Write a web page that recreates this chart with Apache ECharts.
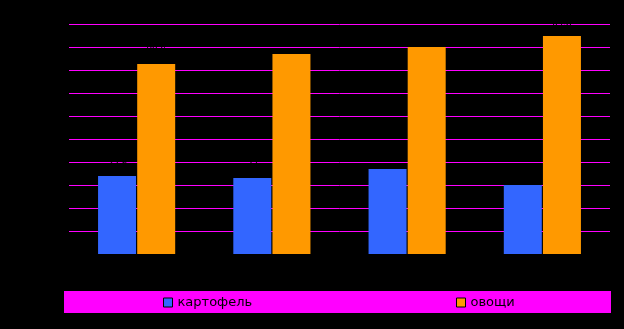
<!DOCTYPE html>
<html>
<head>
<meta charset="utf-8">
<script src="https://cdn.jsdelivr.net/npm/echarts@6/dist/echarts.min.js"></script>
<style>
html,body{margin:0;padding:0;background:#000;}
#c{width:624px;height:329px;}
</style>
</head>
<body>
<div id="c"></div>
<script>
var categories = ['1', '2', '3', '4'];
var seriesNames = ['картофель', 'овощи'];
var potatoValues = [33.9, 33.0, 37.0, 30.0];
var vegetableValues = [82.6, 87.0, 90.0, 94.8];
var yTicks = { min: 0, max: 100, interval: 10 };

var chart = echarts.init(document.getElementById('c'));
var lineColors = ['rgba(0,0,0,0)'];
for (var i = 0; i < 10; i++) lineColors.push('#FF00FF');

var labelCfg = {
  show: true,
  position: 'top',
  distance: 8,
  color: '#000',
  fontFamily: 'Liberation Sans',
  fontSize: 10
};

chart.setOption({
  backgroundColor: '#000',
  animation: false,
  graphic: [{
    type: 'rect',
    shape: { x: 64, y: 291, width: 547, height: 22 },
    style: { fill: '#FF00FF' },
    z: 0
  }],
  legend: [{
    data: [seriesNames[0]],
    left: 163, top: 296, padding: 0,
    itemWidth: 9, itemHeight: 9, itemGap: 5,
    icon: 'rect',
    itemStyle: { borderColor: '#000', borderWidth: 1 },
    textStyle: { color: '#000', fontFamily: 'DejaVu Sans', fontSize: 13 }
  }, {
    data: [seriesNames[1]],
    left: 456, top: 296, padding: 0,
    itemWidth: 9, itemHeight: 9, itemGap: 5,
    icon: 'rect',
    itemStyle: { borderColor: '#000', borderWidth: 1 },
    textStyle: { color: '#000', fontFamily: 'DejaVu Sans', fontSize: 13 }
  }],
  grid: { left: 69, right: 14, top: 24, bottom: 75 },
  xAxis: {
    type: 'category',
    data: categories,
    axisLine: { show: false },
    axisTick: { show: false },
    axisLabel: { show: false }
  },
  yAxis: {
    type: 'value',
    min: yTicks.min, max: yTicks.max, interval: yTicks.interval,
    axisLine: { show: false },
    axisTick: { show: false },
    axisLabel: { show: false },
    splitLine: { show: true, lineStyle: { color: lineColors, width: 1 } }
  },
  series: [{
    name: seriesNames[0],
    type: 'bar',
    data: potatoValues,
    barWidth: 38,
    barGap: '3%',
    itemStyle: { color: '#3366FF' },
    label: labelCfg
  }, {
    name: seriesNames[1],
    type: 'bar',
    data: vegetableValues,
    barWidth: 38,
    barGap: '3%',
    itemStyle: { color: '#FF9900' },
    label: labelCfg
  }]
});
</script>
</body>
</html>
